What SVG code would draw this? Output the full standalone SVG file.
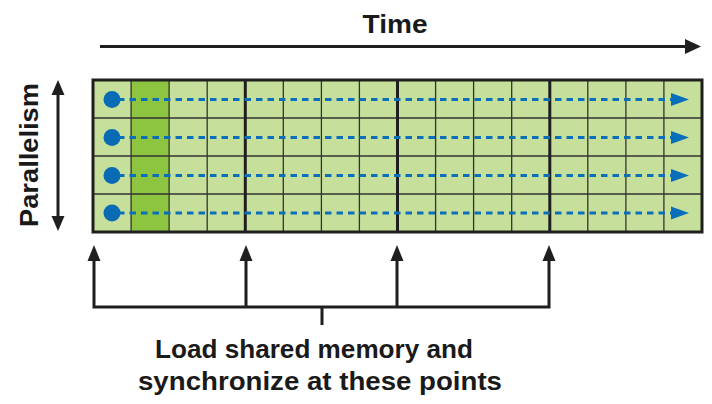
<svg xmlns="http://www.w3.org/2000/svg" width="712" height="404" viewBox="0 0 712 404">
  <style>
    .lbl { font-family: "Liberation Sans", Arial, sans-serif; font-weight: bold; fill: #1a1a1a; }
    .cell { fill: #c6e09c; }
    .thin { stroke: #333; stroke-width: 1.3; fill: none; }
    .thick { stroke: #1f1f1f; stroke-width: 3; fill: none; }
    .blk { stroke: #1f1f1f; stroke-width: 3; fill: none; }
    .flow { stroke: #0a6fba; stroke-width: 3.2; stroke-dasharray: 6.5 5; fill: none; }
    .dot { fill: #0a6bb5; }
    .head { fill: #0a6fba; }
    .ah { fill: #1f1f1f; }
  </style>

  <g id="grid">
    <rect x="93" y="80" width="609" height="152" class="cell"/>
    <rect x="131.1" y="80" width="38" height="152" fill="#8dc541"/>
    <g class="thin">
      <path d="M93 118H702M93 156H702M93 194H702"/>
      <path d="M131.1 80V232M169.1 80V232M207.2 80V232M283.3 80V232M321.4 80V232M359.4 80V232M435.6 80V232M473.6 80V232M511.7 80V232M587.8 80V232M625.9 80V232M663.9 80V232"/>
    </g>
    <g class="thick">
      <path d="M245.3 80V232M397.5 80V232M549.8 80V232"/>
      <rect x="93" y="80" width="609" height="152"/>
    </g>
  </g>

  <g id="threads">
    <g id="thread1">
      <circle cx="112" cy="99.5" r="8.5" class="dot"/>
      <path d="M118 99.5H672" class="flow"/>
      <polygon points="671,93 689,99.5 671,106" class="head"/>
    </g>
    <g id="thread2">
      <circle cx="112" cy="137.5" r="8.5" class="dot"/>
      <path d="M118 137.5H672" class="flow"/>
      <polygon points="671,131 689,137.5 671,144" class="head"/>
    </g>
    <g id="thread3">
      <circle cx="112" cy="175.5" r="8.5" class="dot"/>
      <path d="M118 175.5H672" class="flow"/>
      <polygon points="671,169 689,175.5 671,182" class="head"/>
    </g>
    <g id="thread4">
      <circle cx="112" cy="213" r="8.5" class="dot"/>
      <path d="M118 213H672" class="flow"/>
      <polygon points="671,206.5 689,213 671,219.5" class="head"/>
    </g>
  </g>

  <g id="time-label">
    <text x="395" y="33" text-anchor="middle" class="lbl" font-size="26" textLength="65" lengthAdjust="spacingAndGlyphs">Time</text>
  </g>

  <g id="parallelism-label">
    <text transform="translate(37.5 155) rotate(-90)" x="0" y="0" text-anchor="middle" class="lbl" font-size="26" textLength="144" lengthAdjust="spacingAndGlyphs">Parallelism</text>
  </g>

  <g id="sync-label">
    <text x="314" y="358" text-anchor="middle" class="lbl" font-size="25" textLength="318" lengthAdjust="spacingAndGlyphs">Load shared memory and</text>
    <text x="320" y="390" text-anchor="middle" class="lbl" font-size="25" textLength="364" lengthAdjust="spacingAndGlyphs">synchronize at these points</text>
  </g>

  <g id="connectors">
    <path d="M100 46.5H688" class="blk" stroke-width="2.6"/>
    <polygon points="685,39 701,46.5 685,54" class="ah"/>

    <path d="M58 92V218" class="blk" stroke-width="2.6"/>
    <polygon points="51.5,95 58,80 64.5,95" class="ah"/>
    <polygon points="51.5,216 58,231 64.5,216" class="ah"/>

    <path d="M322 325V307M94 258V307H549V258M246 258V307M397 258V307" class="blk"/>
    <polygon points="87.5,261 94,245 100.5,261" class="ah"/>
    <polygon points="239.5,261 246,245 252.5,261" class="ah"/>
    <polygon points="390.5,261 397,245 403.5,261" class="ah"/>
    <polygon points="542.5,261 549,245 555.5,261" class="ah"/>
  </g>
</svg>
